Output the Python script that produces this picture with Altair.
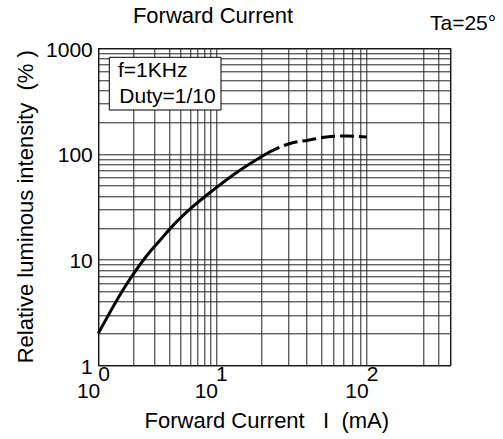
import altair as alt
import pandas as pd

# ---- data ----
solid_current = [1, 1.68, 2.53, 3.39, 4.34, 6.1, 10, 13.4, 21.7]
solid_intensity = [2, 5.5, 10.6, 15.5, 21.2, 30.5, 47.7, 65.3, 101]
dashed_current = [21.7, 31, 40.8, 54.3, 73.6, 100]
dashed_intensity = [101, 125.7, 135, 145, 148, 145]

x_grid = [1, 2, 3, 4, 5, 6, 7, 8, 9, 10, 20, 30, 40, 50, 60, 70, 80, 90, 100, 300, 400, 500]
y_grid = [1, 2, 3, 4, 5, 6, 7, 8, 9, 10, 20, 30, 40, 50, 60, 70, 80, 90, 100,
          200, 300, 400, 500, 600, 700, 800, 900, 1000]
decade_ticks = [1, 10, 100]
decade_exponents = ["0", "1", "2"]
y_labelled = [1, 10, 100, 1000]

FONT = "Liberation Sans"
W, H = 352, 317

solid_df = pd.DataFrame({"current": solid_current, "intensity": solid_intensity})
dashed_df = pd.DataFrame({"current": dashed_current, "intensity": dashed_intensity})
dec_df = pd.DataFrame({"current": decade_ticks, "exp": decade_exponents, "base": ["10"] * 3})

x_scale = alt.Scale(type="log", domain=[1, 10, 100, 500], range=[0, 117.7, 268.4, W])
y_scale = alt.Scale(type="log", domain=[1, 1000])

x_axis = alt.Axis(
    values=x_grid, labels=False, ticks=False, domain=False, grid=True,
    gridColor="#222222", gridWidth=1, gridOpacity=1,
    title="Forward Current\u00a0\u00a0\u00a0I\u00a0\u00a0(mA)",
    titleFont=FONT, titleFontSize=22, titleFontWeight="normal", titleColor="black",
    titleX=168, titleY=62, titleBaseline="alphabetic", titleAlign="center",
)
y_axis = alt.Axis(
    values=y_grid, ticks=False, domain=False, grid=True,
    gridColor="#222222", gridWidth=1, gridOpacity=1,
    labelExpr="indexof(%s, datum.value) >= 0 ? format(datum.value, 'd') : ''" % str(y_labelled),
    labelFont=FONT, labelFontSize=21, labelColor="black", labelPadding=6, labelOffset=2,
    labelBaseline="middle",
    title="Relative luminous intensity\u00a0\u00a0(%\u00a0)",
    titleFont=FONT, titleFontSize=22, titleFontWeight="normal", titleColor="black",
    titleX=-66, titleY=158, titleBaseline="alphabetic", titleAlign="center", titleAngle=270,
)

x_enc = alt.X("current:Q", scale=x_scale, axis=x_axis)
y_enc = alt.Y("intensity:Q", scale=y_scale, axis=y_axis)

solid = alt.Chart(solid_df).mark_line(color="black", strokeWidth=3, interpolate="monotone").encode(
    x=x_enc, y=y_enc
)
dashed = alt.Chart(dashed_df).mark_line(
    color="black", strokeWidth=3, interpolate="monotone", strokeDash=[14, 5]
).encode(x=x_enc, y=y_enc)

one = pd.DataFrame({"k": [0]})
box = alt.Chart(one).mark_rect(fill="white", stroke="black", strokeWidth=1).encode(
    x=alt.value(11), x2=alt.value(122.7), y=alt.value(9), y2=alt.value(61.7)
)
box_t1 = alt.Chart(one).mark_text(font=FONT, fontSize=21, align="left", baseline="alphabetic", color="black").encode(
    x=alt.value(19.7), y=alt.value(28.4), text=alt.value("f=1KHz")
)
box_t2 = alt.Chart(one).mark_text(font=FONT, fontSize=21, align="left", baseline="alphabetic", color="black").encode(
    x=alt.value(21), y=alt.value(55), text=alt.value("Duty=1/10")
)
title_t = alt.Chart(one).mark_text(font=FONT, fontSize=22, align="center", baseline="alphabetic", color="black").encode(
    x=alt.value(114.7), y=alt.value(-25.3), text=alt.value("Forward Current")
)
ta_t = alt.Chart(one).mark_text(font=FONT, fontSize=21, align="left", baseline="alphabetic", color="black").encode(
    x=alt.value(331.7), y=alt.value(-18.3), text=alt.value("Ta=25°")
)

base_lbl = alt.Chart(dec_df).mark_text(font=FONT, fontSize=21, align="right", baseline="alphabetic", dx=2, color="black").encode(
    x=x_enc, y=alt.value(349.5), text="base:N"
)
exp_lbl = alt.Chart(dec_df).mark_text(font=FONT, fontSize=21, align="left", baseline="alphabetic", dx=0, color="black").encode(
    x=x_enc, y=alt.value(333), text="exp:N"
)

chart = alt.layer(solid, dashed, box, box_t1, box_t2, title_t, ta_t, base_lbl, exp_lbl).properties(
    width=W, height=H,
    autosize=alt.AutoSizeParams(type="none"),
    padding={"left": 98.3, "top": 48.3, "right": 503 - 98.3 - W, "bottom": 439 - 48.3 - H},
    background="white",
).configure_view(stroke="black", strokeWidth=1.2)

chart.save("out.html", embed_options={"renderer": "svg", "actions": False})
